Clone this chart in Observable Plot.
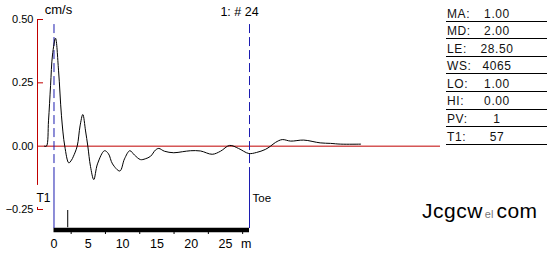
<!DOCTYPE html>
<html>
<head>
<meta charset="utf-8">
<script src="https://cdn.jsdelivr.net/npm/d3@7"></script>
<script src="https://cdn.jsdelivr.net/npm/@observablehq/plot@0.6"></script>
<style>
  html, body { margin: 0; padding: 0; background: #fff; }
  #wrap { position: relative; width: 549px; height: 253px; overflow: hidden; font-family: "Liberation Sans", Arial, sans-serif; }
  #table { position: absolute; left: 446px; top: 4px; width: 101px; }
  .row { position: relative; height: 17.6px; box-sizing: border-box; border-bottom: 1px solid #000; font-size: 12px; letter-spacing: 0.6px; color: #111; }
  .row .lab { position: absolute; left: 1px; top: 2.5px; }
  .row .val { position: absolute; left: 51px; top: 2.5px; transform: translateX(-50%); white-space: nowrap; }
  #wm { position: absolute; left: 422px; top: 199px; font-size: 21px; color: #000; white-space: nowrap; letter-spacing: 0.5px; }
  #wm .s { font-size: 11px; color: #777; letter-spacing: 0; margin: 0 3px 0 2px; }
</style>
</head>
<body>
<div id="wrap"></div>
<script>
// ---- data ----
const dist = [-1.4, -1.1, -0.8, -0.5, -0.22, 0.22, 0.66, 1.09, 1.57, 2.16, 2.55, 2.8, 3.38, 3.8, 4.2, 4.6, 4.93, 5.32, 5.8, 6.34, 7.36, 7.94, 8.53, 9.6, 10.28, 11.05, 11.73, 12.6, 13.3, 14.07, 14.8, 15.28, 16.1, 17.46, 18.7, 19.9, 21.36, 23.06, 24.27, 25.6, 26.9, 28.4, 29.5, 30.8, 31.56, 32.3, 33.27, 34.5, 36.4, 38.8, 40.3, 41.8, 44.7];
const vel  = [0, 0, 0.1, 0.24, 0.36, 0.426, 0.3, 0.12, 0, -0.066, -0.055, -0.042, 0, 0.08, 0.125, 0.06, 0, -0.08, -0.132, -0.07, -0.018, -0.03, -0.07, -0.098, -0.05, -0.018, -0.035, -0.053, -0.05, -0.04, -0.015, -0.009, -0.02, -0.026, -0.022, -0.018, -0.019, -0.032, -0.02, 0.003, -0.009, -0.029, -0.025, -0.013, 0, 0.015, 0.026, 0.02, 0.024, 0.013, 0.011, 0.008, 0.008];

const yTicks = [0.5, 0.25, 0, -0.25];
const yTickMarks = [0.5, 0.25, -0.25];
const xTicks = [0, 5, 10, 15, 20, 25, 28];
const xTickLabels = ["0", "5", "10", "15", "20", "25", "m"];
const xMinorTicks = [2.5, 7.5, 12.5, 17.5, 22.5, 27.5];

const LE = 28.5;   // pile length (toe)
const MD = 2.0;
const unitLabel = "cm/s";
const traceLabel = "1: # 24";
const tableLabels = ["MA:", "MD:", "LE:", "WS:", "LO:", "HI:", "PV:", "T1:"];
const tableValues = ["1.00", "2.00", "28.50", "4065", "1.00", "0.00", "1", "57"];

const RED = "#c00000";
const BLUE = "#1c1cb0";

const W = 549, H = 253, ML = 37, MR = 109, MT = 19, MB = 44;
const X0 = -2.405, X1 = 56.34;
const tickLen = 6 * (X1 - X0) / (W - ML - MR); // 6px in x units

const pts = dist.map((d, i) => ({d, v: vel[i]}));

const chart = Plot.plot({
  width: W, height: H,
  marginLeft: ML, marginRight: MR, marginTop: MT, marginBottom: MB,
  x: {domain: [X0, X1], label: null},
  y: {domain: [-0.25, 0.5], label: null},
  style: {fontFamily: "'Liberation Sans', Arial, sans-serif", fontSize: "12px", background: "#fff", overflow: "visible", color: "#000"},
  marks: [
    // zero line
    Plot.ruleY([0], {stroke: RED}),
    // red vertical axis (interrupted at T1)
    Plot.ruleX([X0], {y1: 0.5, y2: -0.155, stroke: RED}),
    Plot.ruleX([X0], {y1: -0.242, y2: -0.25, stroke: RED}),
    Plot.ruleY(yTickMarks, {x1: X0, x2: X0 + tickLen, stroke: RED}),
    Plot.axisY({ticks: yTicks, tickSize: 0, tickPadding: 4, tickFormat: d3.format(".2f"), fontSize: 11, letterSpacing: 1, label: null}),
    // x axis labels
    Plot.axisX({ticks: xTicks, tickSize: 0, tickPadding: 30, fontSize: 12.5, label: null,
      tickFormat: d => xTickLabels[xTicks.indexOf(d)]}),
    Plot.axisX({ticks: xMinorTicks, tickSize: 2, dy: 23, tickFormat: () => "", label: null}),
    // pile bar
    Plot.ruleY([-0.25], {x1: 0, x2: LE, stroke: "#000", strokeWidth: 4.5, dy: 20.5}),
    Plot.ruleX([MD], {y1: -0.254, y2: -0.322, stroke: "#000"}),
    // blue markers
    Plot.ruleX([0, LE], {y1: 0.48, y2: -0.1, stroke: BLUE, strokeDasharray: "9,4"}),
    Plot.ruleX([0, LE], {y1: -0.1, y2: -0.325, stroke: BLUE}),
    // waveform
    Plot.line(pts, {x: "d", y: "v", stroke: "#000", strokeWidth: 1, curve: "catmull-rom"}),
    // labels
    Plot.text([unitLabel], {frameAnchor: "top-left", textAnchor: "middle", lineAnchor: "middle", dx: 21, dy: -10, fontSize: 13, letterSpacing: 0.8}),
    Plot.text([traceLabel], {x: LE, frameAnchor: "top", lineAnchor: "middle", dx: -10, dy: -8, fontSize: 12.5, letterSpacing: 0.3}),
    Plot.text(["T1"], {x: X0, y: -0.204, textAnchor: "start", dx: -1, fontSize: 12}),
    Plot.text(["Toe"], {x: LE, y: -0.204, textAnchor: "start", dx: 3, fontSize: 11.5})
  ]
});

const wrap = document.getElementById("wrap");
wrap.appendChild(chart);

// side table
const tbl = document.createElement("div");
tbl.id = "table";
tableLabels.forEach((lab, i) => {
  const r = document.createElement("div");
  r.className = "row";
  const a = document.createElement("span"); a.className = "lab"; a.textContent = lab;
  const b = document.createElement("span"); b.className = "val"; b.textContent = tableValues[i];
  r.appendChild(a); r.appendChild(b);
  tbl.appendChild(r);
});
wrap.appendChild(tbl);

// watermark
const wm = document.createElement("div");
wm.id = "wm";
wm.innerHTML = 'Jcgcw<span class="s">el</span>com';
wrap.appendChild(wm);
</script>
</body>
</html>
